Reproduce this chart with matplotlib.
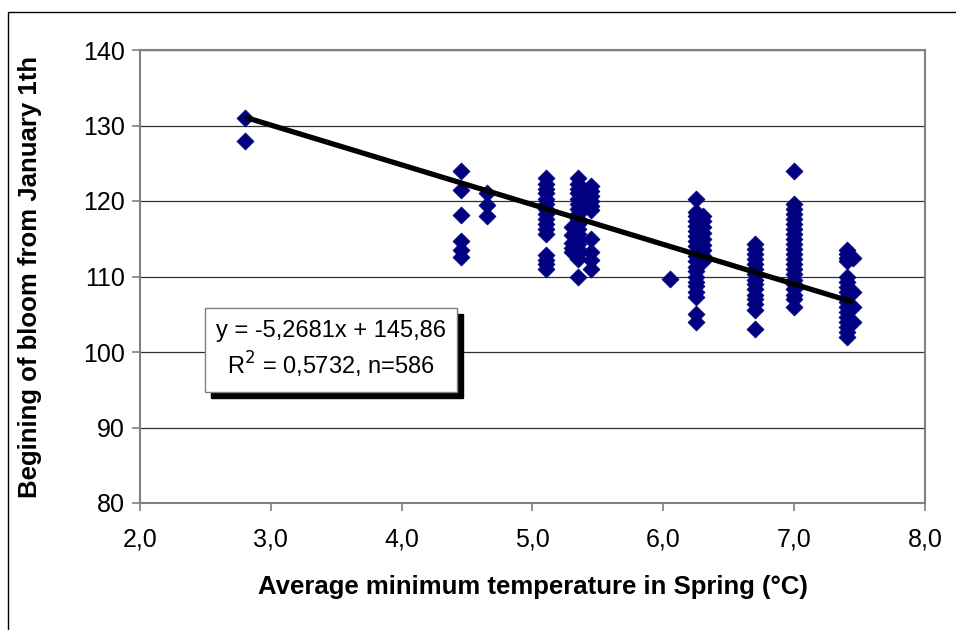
import numpy as np
import matplotlib.pyplot as plt
from matplotlib.patches import Rectangle
from matplotlib.ticker import FuncFormatter, MultipleLocator

# Spring min temperature (°C) of each station-year group, and bloom days
temps = [2.80, 4.45, 4.65, 5.10, 5.30, 5.35, 5.45, 6.05, 6.25, 6.30, 6.70, 7.00, 7.40, 7.45]
bloom_280 = [131, 128]
bloom_445 = [124, 121.5, 118.2, 114.7, 113.5, 112.6]
bloom_465 = [121, 119.5, 118]
bloom_510 = [123, 122.3, 121.6, 121, 120.3, 119.6, 119, 118.3, 117.6, 117, 116.3, 115.6,
             112.8, 112.2, 111.6, 111]
bloom_530 = [116.5, 115.5, 114.5, 113.8, 113.2]
bloom_535 = [123, 122.3, 121.6, 121, 120.3, 119.6, 119, 118.3, 117.6, 117, 116.3, 115.6,
             115, 114.3, 113.6, 113, 112.3, 110]
bloom_545 = [122, 121.3, 120.6, 120, 119.4, 118.8, 115, 113.2, 112.2, 111]
bloom_605 = [109.7]
bloom_625 = [120.2, 118.5, 118, 117.3, 116.7, 116, 115.3, 114.7, 114, 113.3, 112.7, 112,
             111.3, 110.7, 110, 109.3, 108.7, 108, 107.3, 105, 104]
bloom_630 = [118, 117.3, 116.5, 115.7, 115, 114.2, 113.5, 112.7, 112]
bloom_670 = [114.3, 113.6, 113, 112.3, 111.6, 111, 110.3, 109.6, 109, 108.3, 107.6, 107,
             106.3, 105.6, 103]
bloom_700 = [124, 119.6, 119, 118.3, 117.6, 117, 116.3, 115.6, 115, 114.3, 113.6, 113,
             112.3, 111.6, 111, 110.3, 109.6, 109, 108.3, 107.6, 107, 106]
bloom_740 = [113.5, 113, 112.5, 112, 110, 109.3, 108.6, 108, 107.3, 106.6, 106, 105.3,
             104.6, 104, 103.3, 102.6, 102]
bloom_745 = [112.5, 108, 106, 104]

# trend line as printed in the chart
slope = -5.2681
intercept = 145.86
eq_text = "y = -5,2681x + 145,86\nR$^2$ = 0,5732, n=586"

groups = [bloom_280, bloom_445, bloom_465, bloom_510, bloom_530, bloom_535, bloom_545,
          bloom_605, bloom_625, bloom_630, bloom_670, bloom_700, bloom_740, bloom_745]

x = np.concatenate([[t] * len(g) for t, g in zip(temps, groups)])
y = np.concatenate(groups)

plt.rcParams['font.family'] = ['Liberation Sans', 'DejaVu Sans']

fig = plt.figure(figsize=(9.56, 6.30), dpi=100)
ax = fig.add_axes([140 / 956, 1 - 503 / 630, 785 / 956, 453 / 630])

# outer chart frame
fig.patches.append(Rectangle((8 / 956, -0.2), 1.2, 1.2 - 12 / 630,
                             transform=fig.transFigure, fill=False,
                             edgecolor='black', linewidth=1))

ax.set_xlim(2.0, 8.0)
ax.set_ylim(80, 140)
ax.yaxis.set_major_locator(MultipleLocator(10))
ax.xaxis.set_major_locator(MultipleLocator(1.0))
ax.xaxis.set_major_formatter(FuncFormatter(lambda v, p: f"{v:.1f}".replace('.', ',')))

ax.grid(axis='y', color='#303030', linewidth=0.9)
ax.set_axisbelow(True)
for s in ax.spines.values():
    s.set_color('#808080')
    s.set_linewidth(1.5)
ax.tick_params(direction='out', length=6, width=1.2, color='#808080',
               labelsize=18, pad=5)
ax.tick_params(axis='x', pad=12)

ax.scatter(x, y, marker='D', s=75, color='#000080', edgecolors='#000080',
           linewidths=0.5, zorder=3)

xl = np.array([x.min(), x.max()])
ax.plot(xl, slope * xl + intercept, color='black', linewidth=3.8, zorder=4,
        solid_capstyle='butt')

ax.set_xlabel("Average minimum temperature in Spring (°C)", fontsize=18.5,
              fontweight='bold')
ax.set_ylabel("Begining of bloom from January 1th", fontsize=18.5,
              fontweight='bold')
ax.xaxis.set_label_coords(0.5, -0.158)
ax.yaxis.set_label_coords(-0.125, 0.5)

# equation box with Excel-like shadow
bx0, bx1, by0, by1 = 205, 457, 308, 392
off = 6
fig.patches.append(Rectangle(((bx0 + off) / 956, 1 - (by1 + off) / 630),
                             (bx1 - bx0) / 956, (by1 - by0) / 630,
                             transform=fig.transFigure, facecolor='black',
                             edgecolor='black', zorder=5))
fig.patches.append(Rectangle((bx0 / 956, 1 - by1 / 630),
                             (bx1 - bx0) / 956, (by1 - by0) / 630,
                             transform=fig.transFigure, facecolor='white',
                             edgecolor='#808080', linewidth=1, zorder=6))
fig.text((bx0 + bx1) / 2 / 956, 1 - (by0 + by1) / 2 / 630, eq_text,
         ha='center', va='center', fontsize=17, linespacing=1.3, zorder=7)

fig.savefig('out.png', dpi=100)
